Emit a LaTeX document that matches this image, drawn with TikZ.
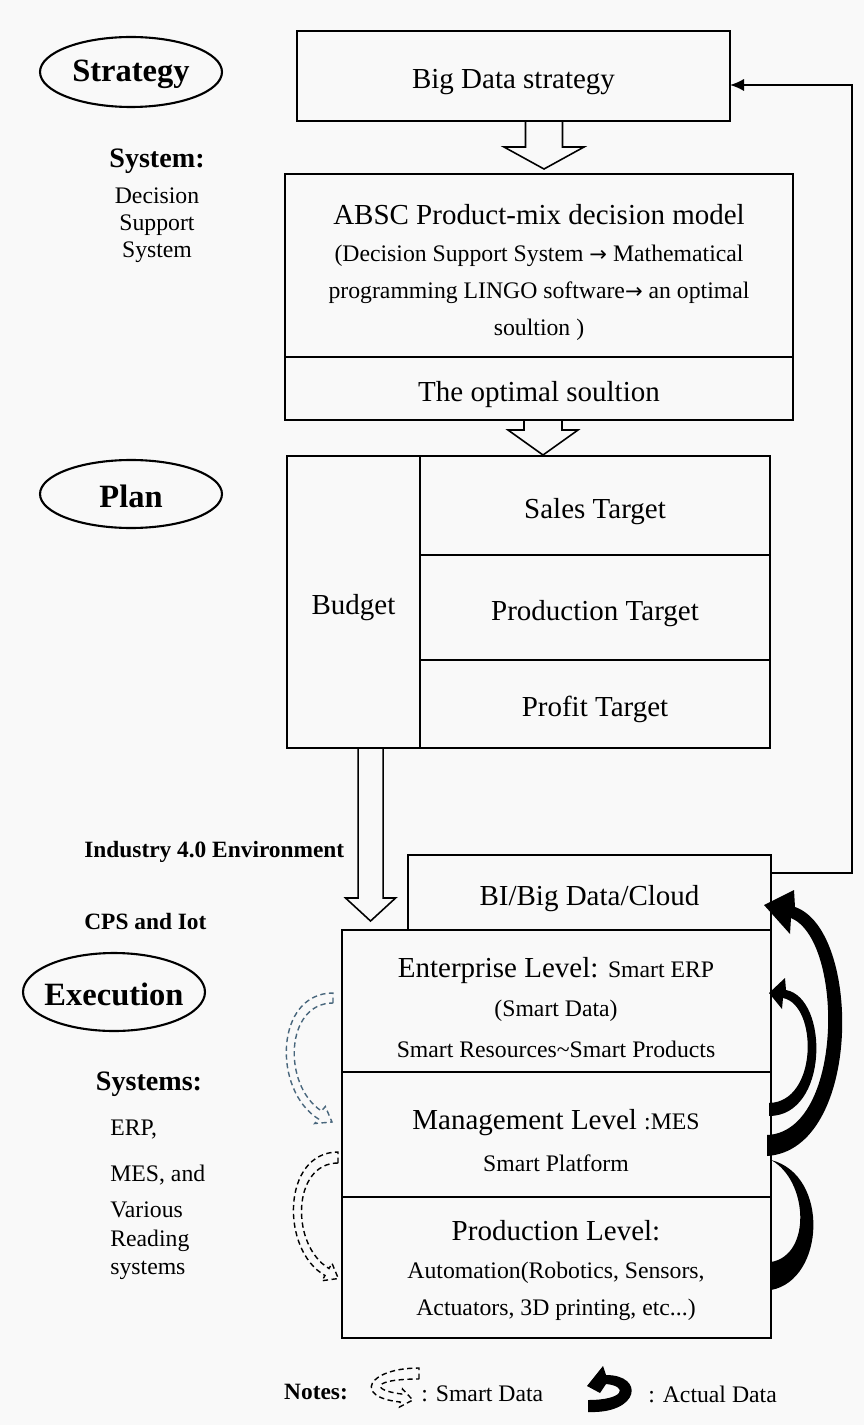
\documentclass[tikz,border=0pt]{standalone}
\usepackage{fontspec}
\setmainfont{Liberation Serif}
\newfontfamily\arrowfont{DejaVu Sans}
\usetikzlibrary{calc,arrows.meta}

\definecolor{smartblue}{RGB}{72,102,124}
\definecolor{paper}{RGB}{249,249,249}

\newcommand{\bigf}{\fontsize{16.5}{19}\selectfont}
\newcommand{\smallf}{\fontsize{13.5}{16}\selectfont}
\newcommand{\toarrow}{{\arrowfont\fontsize{12}{14}\selectfont →}}

% hollow block arrow: start, tip, shaft half width, head half width, head length
\newcommand{\hollowarrow}[5]{%
  \draw[hollow] let \p1=(#1), \p2=(#2) in
    (\x2,\y2) -- (\x2+#4,\y2+#5) -- (\x2+#3,\y2+#5) -- (\x2+#3,\y1)
    -- (\x2-#3,\y1) -- (\x2-#3,\y2+#5) -- (\x2-#4,\y2+#5) -- cycle;}

\tikzset{
  box/.style={draw, line width=1pt, inner sep=0pt, outer sep=0pt, font=\bigf,
    text height=14.6pt, text depth=0pt},
  stage/.style={inner sep=0pt, font=\fontsize{18.5}{21}\selectfont\bfseries},
  stageline/.style={line width=1.2pt},
  bigt/.style={font=\bigf, inner sep=0pt},
  smallt/.style={font=\smallf, inner sep=0pt},
  sidel/.style={font=\fontsize{16}{18}\selectfont\bfseries, inner sep=0pt},
  envl/.style={font=\fontsize{13.3}{16}\selectfont\bfseries, inner sep=0pt, anchor=west},
  hollow/.style={draw, line width=0.9pt, line join=miter},
  smart/.style={line width=0.8pt, dash pattern=on 3pt off 2pt},
  actual/.style={fill=black},
  fb/.style={line width=1pt, -{Latex[length=8pt,width=7pt]}}
}

\begin{document}
\begin{tikzpicture}[x=0.02cm, y=-0.02cm]
\fill[paper] (0,0) rectangle (864,1425);
\useasboundingbox (0,0) rectangle (864,1425);

% stages
\node[stage] (strategy) at (131,74) {Strategy};
\draw[stageline] (131,72) ellipse [x radius=1.82cm, y radius=0.7cm];
\node[stage] (plan) at (131,496) {Plan};
\draw[stageline] (131,494) ellipse [x radius=1.82cm, y radius=0.68cm];
\node[stage] (execution) at (114,994) {Execution};
\draw[stageline] (114,992) ellipse [x radius=1.82cm, y radius=0.78cm];

% left labels
\node[sidel] (system) at (157,161) {System:};
\node[smallt, align=center, font=\fontsize{13.5}{15.4}\selectfont] (dss) at (157,225) {Decision\\Support\\System};
\node[envl] (industry) at (84,852) {Industry 4.0 Environment};
\node[envl] (cps) at (84,921) {CPS and Iot};
\node[sidel] (systems) at (149,1084) {Systems:};
\node[smallt, anchor=west] (erp) at (110,1130) {ERP,};
\node[smallt, anchor=west] (mes) at (110,1175) {MES, and};
\node[smallt, anchor=west, align=left, font=\fontsize{13.5}{16.2}\selectfont] (various) at (110,1241) {Various\\Reading\\systems};

% strategy boxes
\node[box, minimum width=8.66cm, minimum height=1.8cm] (bigdata) at (513.5,76) {Big Data strategy};
\node[box, minimum width=10.16cm, minimum height=3.66cm] (absc) at (539,265.5) {};
\node[box, minimum width=10.16cm, minimum height=1.26cm] (optimal) at (539,388.5) {The optimal soultion};
\node[bigt] (abscA) at (539,215) {ABSC Product-mix decision model};
\node[smallt, align=center, font=\fontsize{13.5}{21}\selectfont] (abscB) at (539,293) {(Decision Support System \toarrow\ Mathematical\\programming LINGO software\toarrow\ an optimal\\soultion )};

% plan boxes
\node[box, minimum width=2.66cm, minimum height=5.84cm] (budget) at (353.5,602) {Budget};
\node[box, minimum width=7cm, minimum height=1.98cm] (sales) at (595,505.5) {Sales Target};
\node[box, minimum width=7cm, minimum height=2.1cm] (prodtarget) at (595,607.5) {Production Target};
\node[box, minimum width=7cm, minimum height=1.76cm] (profit) at (595,704) {Profit Target};

% execution boxes
\node[box, minimum width=7.26cm, minimum height=1.5cm] (bi) at (589.5,892.5) {BI/Big Data/Cloud};
\node[box, minimum width=8.58cm, minimum height=2.84cm] (enterprise) at (556.5,1001) {};
\node[box, minimum width=8.58cm, minimum height=2.5cm] (management) at (556.5,1134.5) {};
\node[box, minimum width=8.58cm, minimum height=2.82cm] (production) at (556.5,1267.5) {};
\node[bigt] (entA) at (556,971) {Enterprise Level: {\smallf Smart ERP}};
\node[smallt] (entB) at (556,1011) {(Smart Data)};
\node[smallt] (entC) at (556,1049) {Smart Resources\textasciitilde Smart Products};
\node[bigt] (manA) at (556,1123) {Management Level {\smallf :MES}};
\node[smallt] (manB) at (556,1163) {Smart Platform};
\node[bigt] (proA) at (556,1231) {Production Level:};
\node[smallt] (proB) at (556,1273) {Automation(Robotics, Sensors,};
\node[smallt] (proC) at (556,1310) {Actuators, 3D printing, etc...)};

% block arrows
\hollowarrow{$(bigdata.south)+(30.5,0)$}{$(absc.north)+(5,-5)$}{0.37cm}{0.8cm}{0.44cm}
\hollowarrow{$(optimal.south)+(4,0)$}{$(sales.north)+(-52,-1)$}{0.38cm}{0.7cm}{0.5cm}
\hollowarrow{$(budget.south)+(17,0)$}{$(enterprise.north west)+(28.5,-9)$}{0.25cm}{0.5cm}{0.46cm}

% feedback
\draw[fb] ([yshift=0.39cm]bi.east) -- ++(1.62cm,0) |- ([yshift=-0.18cm]bigdata.east);

% actual data
\fill[actual] (767,1135) -- (767,1156) .. controls (862,1150) and (862,930) .. (795,907) -- (794,890) -- (764,905) -- (790,934) -- (791,918) .. controls (844,940) and (844,1132) .. (767,1135) -- cycle;
\fill[actual] (769,1103) -- (769,1116) .. controls (829,1116) and (829,998) .. (786,990) -- (785,978) -- (769,993) -- (782,1009) -- (783,998) .. controls (818,1005) and (818,1102) .. (769,1103) -- cycle;
\fill[actual] (771,1160) .. controls (830,1175) and (825,1280) .. (771,1290) -- (771,1262) .. controls (812,1255) and (808,1180) .. (771,1160) -- cycle;

% smart data
\draw[smart, smartblue] (333,1003) -- (333,993) .. controls (275,993) and (272,1090) .. (318.5,1119) -- (314.7,1123.5) -- (332,1122) -- (325.3,1106.5) -- (321.5,1111) .. controls (282,1085) and (285,1003) .. (333,1003) -- cycle;
\draw[smart] (338,1163) -- (338,1152) .. controls (282,1152) and (280,1250) .. (325,1275.5) -- (322,1280.7) -- (338.3,1278.5) -- (332,1263.3) -- (329,1268.5) .. controls (290,1245) and (292,1163) .. (338,1163) -- cycle;

% notes
\node[envl, anchor=center] (notes) at (316,1392) {Notes:};
\draw[smart] (419,1379) -- (419,1368) .. controls (368,1368) and (352,1397) .. (400.3,1402) -- (399.5,1407) -- (412.8,1400) -- (402.5,1389) -- (401.7,1394) .. controls (370,1390) and (372,1379) .. (419,1379) -- cycle;
\node[smallt, anchor=west] (smartkey) at (421,1394) {: Smart Data};
\fill[actual] (588,1400) -- (588,1412) .. controls (640,1414) and (645,1375) .. (606,1375) -- (603,1366) -- (587,1386) -- (600,1393) -- (606,1384) .. controls (628,1386) and (625,1400) .. (588,1400) -- cycle;
\node[smallt, anchor=west] (actualkey) at (648,1394) {: Actual Data};
\end{tikzpicture}
\end{document}
